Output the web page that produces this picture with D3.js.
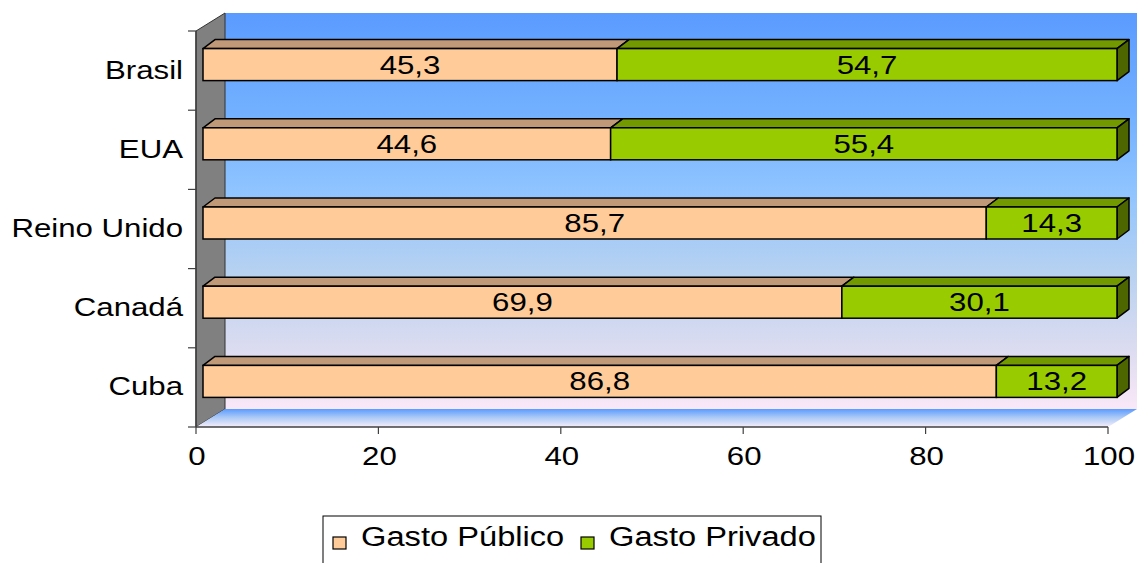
<!DOCTYPE html>
<html>
<head>
<meta charset="utf-8">
<script src="https://cdn.jsdelivr.net/npm/d3@7"></script>
<style>
  body { margin: 0; background: #ffffff; }
  text { font-family: "Liberation Sans", Arial, sans-serif; fill: #000; }
</style>
</head>
<body>
<svg id="chart" width="1147" height="563"></svg>
<script>
// Health spending split (% of total): public vs private
const categories   = ["Brasil", "EUA", "Reino Unido", "Canadá", "Cuba"];
const gastoPublico = [45.3, 44.6, 85.7, 69.9, 86.8];
const gastoPrivado = [54.7, 55.4, 14.3, 30.1, 13.2];
const seriesNames  = ["Gasto Público", "Gasto Privado"];
const xTicks       = [0, 20, 40, 60, 80, 100];

const svg = d3.select("#chart");
const FONT = 26, STRETCH = 1.2;

// Portuguese number format (decimal comma)
const ptFmt = d3.formatLocale({ decimal: ",", thousands: ".", grouping: [3], currency: ["R$", ""] }).format(".1f");

// Front axis plane
const x = d3.scaleLinear().domain([0, 100]).range([196, 1108]);
const y = d3.scaleBand().domain(categories).range([31, 427]);
const floorY = 427, topY = 31;
// Depth of the wall/floor box
const DX = 29, DY = -18;
// Bars sit slightly behind the front plane
const xb = d3.scaleLinear().domain([0, 100]).range([203, 1117]);
const barShiftY = -6, barH = 32, bdx = 12, bdy = -9;

const colors = {
  pub:  { front: "#ffcc99", top: "#c09a78", side: "#9a7a5c" },
  priv: { front: "#99cc00", top: "#739900", side: "#4d6600" }
};

// Gradients
const defs = svg.append("defs");
const wallGrad = defs.append("linearGradient").attr("id", "wallGrad")
  .attr("gradientUnits", "userSpaceOnUse")
  .attr("x1", 0).attr("y1", topY + DY).attr("x2", 0).attr("y2", floorY + DY);
[[0, "#5b9bff"], [0.25, "#72b0ff"], [0.45, "#8fc4ff"], [0.65, "#b6d1f1"],
 [0.85, "#dcdcf0"], [1, "#fae8f8"]].forEach(([o, c]) =>
  wallGrad.append("stop").attr("offset", o).attr("stop-color", c));

const floorGrad = defs.append("linearGradient").attr("id", "floorGrad")
  .attr("gradientUnits", "userSpaceOnUse")
  .attr("x1", 0).attr("y1", floorY + DY).attr("x2", 0).attr("y2", floorY);
[[0, "#5b9bff"], [0.45, "#a9c8f6"], [1, "#f6eefa"]].forEach(([o, c]) =>
  floorGrad.append("stop").attr("offset", o).attr("stop-color", c));

const poly = pts => "M" + pts.map(p => p.join(",")).join("L") + "Z";

// Back wall
svg.append("rect")
  .attr("x", x(0) + DX).attr("y", topY + DY)
  .attr("width", x(100) - x(0)).attr("height", floorY - topY)
  .attr("fill", "url(#wallGrad)");

// Side wall (grey)
svg.append("path")
  .attr("d", poly([[x(0), floorY], [x(0), topY], [x(0) + DX, topY + DY], [x(0) + DX, floorY + DY]]))
  .attr("fill", "#808080").attr("stroke", "#333").attr("stroke-width", 1);

// Floor
svg.append("path")
  .attr("d", poly([[x(0), floorY], [x(100), floorY], [x(100) + DX, floorY + DY], [x(0) + DX, floorY + DY]]))
  .attr("fill", "url(#floorGrad)");

// Category axis
const yAxisG = svg.append("g");
yAxisG.append("line")
  .attr("x1", x(0)).attr("x2", x(0)).attr("y1", topY).attr("y2", floorY)
  .attr("stroke", "#404040").attr("stroke-width", 1.5);
const yEdges = categories.map(c => y(c)).concat([y.range()[1]]);
yAxisG.selectAll("line.tick").data(yEdges).join("line")
  .attr("class", "tick")
  .attr("x1", x(0) - 8).attr("x2", x(0))
  .attr("y1", d => d).attr("y2", d => d)
  .attr("stroke", "#404040").attr("stroke-width", 1.2);
yAxisG.selectAll("text").data(categories).join("text")
  .attr("text-anchor", "end")
  .attr("font-size", FONT)
  .attr("transform", d => `translate(183,${y(d) + y.bandwidth() / 2 + 8}) scale(${STRETCH},1)`)
  .text(d => d);

// Value axis
const xAxisG = svg.append("g");
xAxisG.append("line")
  .attr("x1", x(0)).attr("x2", x(100)).attr("y1", floorY).attr("y2", floorY)
  .attr("stroke", "#404040").attr("stroke-width", 1.5);
xAxisG.selectAll("line.tick").data(xTicks).join("line")
  .attr("class", "tick")
  .attr("x1", d => x(d)).attr("x2", d => x(d))
  .attr("y1", floorY).attr("y2", floorY + 7)
  .attr("stroke", "#404040").attr("stroke-width", 1.2);
xAxisG.selectAll("text").data(xTicks).join("text")
  .attr("text-anchor", "middle")
  .attr("font-size", FONT)
  .attr("transform", d => `translate(${x(d) + 1},465) scale(${STRETCH},1)`)
  .text(d => d);

// Stacked 3D bars
const rows = categories.map((c, i) => ({
  cat: c,
  segs: [
    { key: "pub",  v0: 0, v1: gastoPublico[i], val: gastoPublico[i] },
    { key: "priv", v0: gastoPublico[i], v1: gastoPublico[i] + gastoPrivado[i], val: gastoPrivado[i] }
  ]
}));

const barG = svg.append("g");
rows.forEach(row => {
  const cy = y(row.cat) + y.bandwidth() / 2 + barShiftY;
  const yt = cy - barH / 2, ybt = cy + barH / 2;
  const g = barG.append("g");
  row.segs.forEach((s, j) => {
    const xa = xb(s.v0), xe = xb(s.v1);
    const col = colors[s.key];
    // top face
    g.append("path")
      .attr("d", poly([[xa, yt], [xe, yt], [xe + bdx, yt + bdy], [xa + bdx, yt + bdy]]))
      .attr("fill", col.top).attr("stroke", "#000").attr("stroke-width", 1.5)
      .attr("stroke-linejoin", "round");
    // right side face on the last segment only
    if (j === row.segs.length - 1) {
      g.append("path")
        .attr("d", poly([[xe, yt], [xe + bdx, yt + bdy], [xe + bdx, ybt + bdy], [xe, ybt]]))
        .attr("fill", col.side).attr("stroke", "#000").attr("stroke-width", 1.5)
        .attr("stroke-linejoin", "round");
    }
    // front face
    g.append("rect")
      .attr("x", xa).attr("y", yt).attr("width", xe - xa).attr("height", barH)
      .attr("fill", col.front).attr("stroke", "#000").attr("stroke-width", 1.5);
    // value label
    g.append("text")
      .attr("text-anchor", "middle")
      .attr("font-size", FONT)
      .attr("transform", `translate(${(xa + xe) / 2},${cy + 9}) scale(${STRETCH},1)`)
      .text(ptFmt(s.val));
  });
});

// Legend
const legend = svg.append("g");
legend.append("rect")
  .attr("x", 323).attr("y", 516).attr("width", 498).attr("height", 60)
  .attr("fill", "#fff").attr("stroke", "#000").attr("stroke-width", 1);
const legendX = [333, 581];
seriesNames.forEach((name, i) => {
  const key = i === 0 ? "pub" : "priv";
  legend.append("rect")
    .attr("x", legendX[i]).attr("y", 537).attr("width", 13).attr("height", 12)
    .attr("fill", colors[key].front).attr("stroke", "#000").attr("stroke-width", 1.2);
  legend.append("text")
    .attr("font-size", 27)
    .attr("transform", `translate(${legendX[i] + 28},546) scale(1.21,1)`)
    .text(name);
});
</script>
</body>
</html>
